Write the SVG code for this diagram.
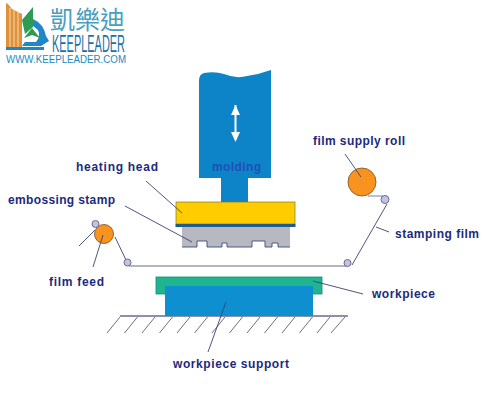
<svg xmlns="http://www.w3.org/2000/svg" width="483" height="408" viewBox="0 0 483 408">
<style>
.l{font-family:"Liberation Sans",Arial,sans-serif;font-size:12px;font-weight:bold;fill:#1c2a7c}
.c{fill:none;stroke:#3a4270;stroke-width:.9}
.f{fill:none;stroke:#9a9cb0;stroke-width:1.3}
.h{fill:none;stroke:#444a66;stroke-width:.8}
.roll{fill:#f7931e;stroke:#8a5a2a;stroke-width:.9}
.idler{fill:#c4c4e0;stroke:#6a6a90;stroke-width:1}
</style>
<rect width="483" height="408" fill="#fff"/>
<g id="logo">
<path d="M6 3L8 4L12 9L22 14V47H6Z" fill="#e0913a"/>
<path d="M10 8V47M14 10V47M18 12V47" stroke="#f6d9b0" stroke-width="1"/>
<path d="M22 20L33 7V27L25 34Z" fill="#2f9b52"/>
<path d="M33 19Q44 24 46 36L49 41L41 46H22L25 42H36Q41 36 38 30L33 26Z" fill="#1e87c8"/>
<path d="M24 38L32 28L40 38L32 35Z" fill="#2f9b52"/>
<rect x="6" y="47" width="38" height="3" fill="#1e87c8"/>
<text x="50" y="29" font-family="'Noto Sans CJK TC','Noto Sans CJK SC',sans-serif" font-size="25" fill="#4a9fc0" textLength="75" lengthAdjust="spacingAndGlyphs">凱樂迪</text>
<text x="52" y="52" font-family="'Liberation Sans',Arial,sans-serif" font-size="23" fill="#1b6fa8" textLength="73" lengthAdjust="spacingAndGlyphs">KEEPLEADER</text>
<text x="6" y="62.500" font-family="'Liberation Sans',Arial,sans-serif" font-size="10.500" fill="#1b8cc0" textLength="120" lengthAdjust="spacingAndGlyphs">WWW.KEEPLEADER.COM</text>
</g>
<g id="ground">
<path d="M120 316H348" stroke="#1c2350" stroke-width="1.100" fill="none"/>
<path class="h" d="M120 317L107 333M137.500 317L124.500 333M155 317L142 333M172.500 317L159.500 333M190 317L177 333M207.500 317L194.500 333M225 317L212 333M242.500 317L229.500 333M260 317L247 333M277.500 317L264.500 333M295 317L282 333M312.500 317L299.500 333M330 317L317 333M345 317L331 333"/>
</g>
<g id="workpiece"><rect x="156" y="277" width="166" height="17" fill="#1fb58f" stroke="#158a80" stroke-width=".8"/></g>
<g id="workpiece-support"><rect x="165" y="286" width="148" height="30" fill="#0e8fd0"/></g>
<g id="molding">
<path d="M199 178V81Q199 74 204 73Q215 71 224 74Q236 79 247 76Q260 74 271 70V178Z" fill="#0e84c8"/>
<rect x="221" y="178" width="27" height="24" fill="#0e84c8"/>
<path d="M235.500 105V137" stroke="#fff" stroke-width="2"/>
<path d="M235.500 105L240 115H231ZM235.500 142L231 132H240Z" fill="#fff"/>
<text x="212" y="171" font-family="'Liberation Sans',Arial,sans-serif" font-size="12" font-weight="bold" fill="#1f50b8" textLength="49">molding</text>
</g>
<g id="heating-head">
<rect x="176" y="202" width="119" height="22" fill="#ffcc00" stroke="#7a7a30" stroke-width=".7"/>
<rect x="175.500" y="224" width="120" height="3" fill="#1f5a90"/>
</g>
<g id="embossing-stamp">
<path d="M182 227H290V247H278V243H272V247H265V241H252V247H227V243H222V247H207V241H197V247H182Z" fill="#b8b8c0"/>
<path d="M182 247H197V241H207V247H222V243H227V247H252V241H265V247H272V243H278V247H290" fill="none" stroke="#3a4a80" stroke-width=".9"/>
</g>
<g id="film-supply-roll"><circle cx="362" cy="182" r="14" class="roll"/></g>
<g id="film-feed-roll"><circle cx="104" cy="234" r="9.500" class="roll"/></g>
<g id="connectors">
<path class="f" d="M129 266H347"/>
<path class="f" d="M368 196H383"/>
<path class="c" d="M387 204L352 265"/>
<path class="c" d="M115 237L126 260"/>
<path class="c" d="M95 230L79 246"/>
<path class="c" d="M103 235L93 267"/>
<path class="c" d="M146 181L182 213"/>
<path class="c" d="M125 206L192 242"/>
<path class="c" d="M345 154L361 177"/>
<path class="c" d="M376 227L389 232"/>
<path class="c" d="M313 281L363 294"/>
<path class="c" d="M226 302L208 352"/>
</g>
<g id="idlers">
<circle cx="95.500" cy="224" r="3.500" class="idler"/>
<circle cx="127.500" cy="262.500" r="3.500" class="idler"/>
<circle cx="347.500" cy="263" r="3.500" class="idler"/>
<circle cx="385" cy="199.500" r="4" class="idler"/>
</g>
<g id="labels">
<text class="l" x="76" y="171" textLength="82">heating head</text>
<text class="l" x="8" y="204" textLength="107">embossing stamp</text>
<text class="l" x="313" y="145" textLength="92">film supply roll</text>
<text class="l" x="395" y="238" textLength="84">stamping film</text>
<text class="l" x="49" y="286" textLength="55">film feed</text>
<text class="l" x="372" y="298" textLength="63">workpiece</text>
<text class="l" x="173" y="368" textLength="116">workpiece support</text>
</g>
</svg>
